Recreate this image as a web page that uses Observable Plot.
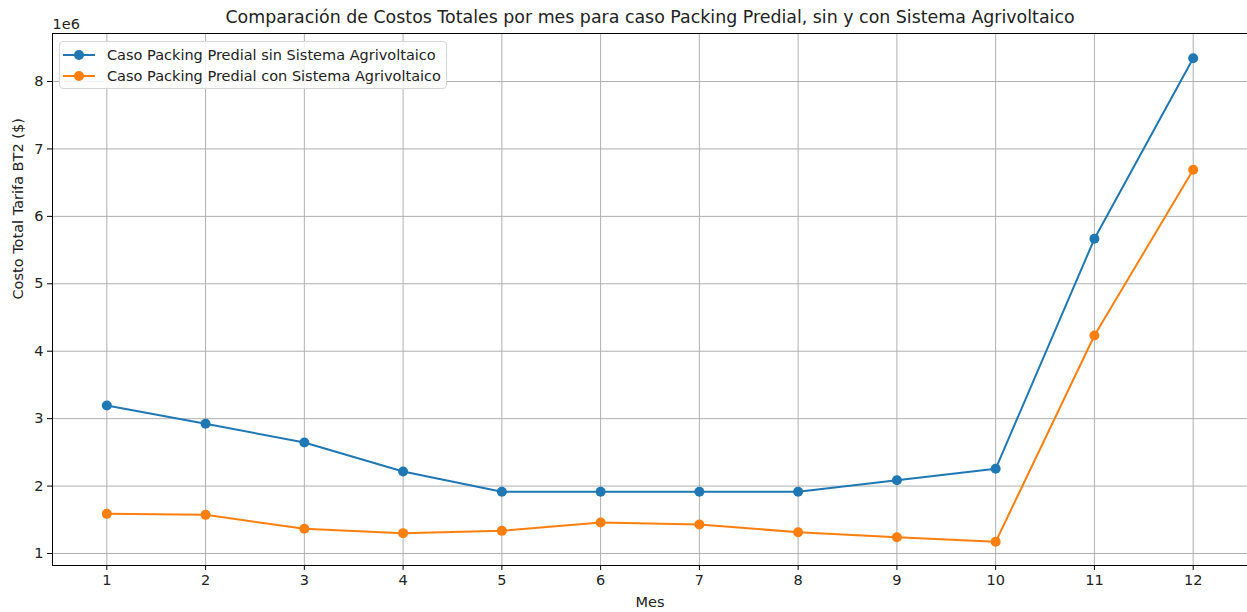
<!DOCTYPE html>
<html>
<head>
<meta charset="utf-8">
<script src="https://cdn.jsdelivr.net/npm/d3@7"></script>
<script src="https://cdn.jsdelivr.net/npm/@observablehq/plot@0.6"></script>
<style>
  html, body { margin: 0; padding: 0; background: #fff; }
  #wrap { position: relative; width: 1247px; height: 612px; font-family: "DejaVu Sans", sans-serif; }
  #legend { position: absolute; left: 59px; top: 41px; background: rgba(255,255,255,0.85);
    border: 1px solid #d6d6d6; border-radius: 4px; padding: 2px 5px 2px 1px; font-size: 14.5px; color: #222; }
  .row { display: flex; align-items: center; height: 21px; }
  .row svg { margin-right: 10px; }
</style>
</head>
<body>
<div id="wrap"></div>
<script>
const months = [1, 2, 3, 4, 5, 6, 7, 8, 9, 10, 11, 12];
const sinSistema = [3195000, 2925000, 2646000, 2216000, 1915000, 1915000, 1915000, 1915000, 2087000, 2256000, 5667000, 8345000];
const conSistema = [1588000, 1573000, 1366000, 1302000, 1336000, 1460000, 1430000, 1316000, 1242000, 1173000, 4233000, 6690000];
const seriesNames = ["Caso Packing Predial sin Sistema Agrivoltaico", "Caso Packing Predial con Sistema Agrivoltaico"];
const seriesColors = ["#1f77b4", "#ff7f0e"];
const yTicks = [1e6, 2e6, 3e6, 4e6, 5e6, 6e6, 7e6, 8e6];
const title = "Comparación de Costos Totales por mes para caso Packing Predial, sin y con Sistema Agrivoltaico";
const xLabel = "Mes";
const yLabel = "Costo Total Tarifa BT2 ($)";
const offsetText = "1e6";

const rows = [];
[sinSistema, conSistema].forEach((vals, si) => {
  months.forEach((m, i) => rows.push({mes: m, costo: vals[i], serie: seriesNames[si]}));
});

const font = "DejaVu Sans, sans-serif";
const fs = 14.5;
const plot = Plot.plot({
  width: 1247,
  height: 612,
  marginLeft: 52,
  marginRight: 0,
  marginTop: 33,
  marginBottom: 47,
  style: {fontFamily: font, fontSize: fs + "px", color: "#222", background: "#fff"},
  x: {domain: [0.45, 12.55]},
  y: {domain: [822000, 8712000]},
  color: {domain: seriesNames, range: seriesColors},
  marks: [
    Plot.gridX(months, {stroke: "#b0b0b0", strokeOpacity: 1, strokeWidth: 1}),
    Plot.gridY(yTicks, {stroke: "#b0b0b0", strokeOpacity: 1, strokeWidth: 1}),
    Plot.axisX(months, {tickSize: 5, tickPadding: 4, fontSize: fs, label: null, stroke: "#000"}),
    Plot.axisY(yTicks, {tickSize: 5, tickPadding: 4, fontSize: fs, label: null, tickFormat: d => String(d / 1e6), stroke: "#000"}),
    Plot.line(rows, {x: "mes", y: "costo", z: "serie", stroke: "serie", strokeWidth: 2}),
    Plot.dot(rows, {x: "mes", y: "costo", fill: "serie", r: 5}),
    Plot.frame({stroke: "#000", strokeWidth: 1}),
    Plot.text([title], {frameAnchor: "top", lineAnchor: "middle", dy: -16, fontSize: 17.4, fill: "#222"}),
    Plot.text([offsetText], {frameAnchor: "top-left", lineAnchor: "middle", dy: -9, dx: 0, fontSize: fs, fill: "#222", textAnchor: "start"}),
    Plot.text([xLabel], {frameAnchor: "bottom", lineAnchor: "middle", dy: 37, fontSize: fs, fill: "#222"}),
    Plot.text([yLabel], {frameAnchor: "left", dx: -34, rotate: -90, fontSize: fs, fill: "#222"})
  ]
});
const wrap = document.getElementById("wrap");
wrap.appendChild(plot);

const legend = document.createElement("div");
legend.id = "legend";
seriesNames.forEach((name, i) => {
  const row = document.createElement("div");
  row.className = "row";
  row.innerHTML = `<svg width="36" height="12"><line x1="2" y1="6" x2="34" y2="6" stroke="${seriesColors[i]}" stroke-width="2"/><circle cx="18" cy="6" r="5" fill="${seriesColors[i]}"/></svg><span>${name}</span>`;
  legend.appendChild(row);
});
wrap.appendChild(legend);
</script>
</body>
</html>
